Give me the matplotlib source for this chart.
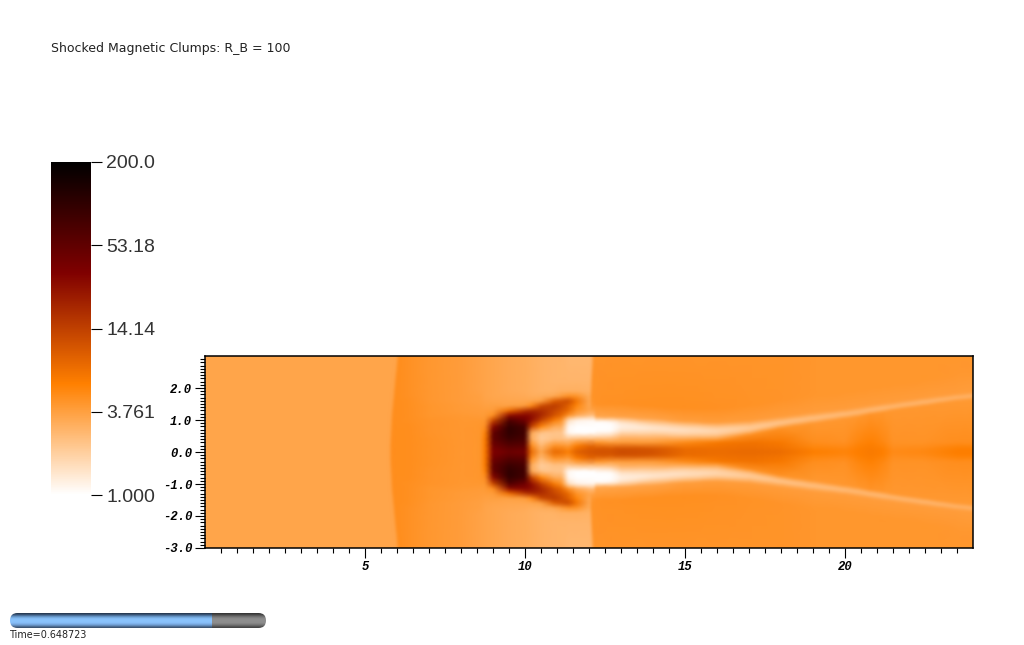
import matplotlib
matplotlib.use('Agg')
import matplotlib.pyplot as plt
import numpy as np
from matplotlib.colors import LinearSegmentedColormap, LogNorm
from matplotlib.cm import ScalarMappable
from matplotlib.patches import FancyBboxPatch

plt.rcParams['axes.unicode_minus'] = False

# Texts and ticks
title_text = 'Shocked Magnetic Clumps: R_B = 100'
time_text = 'Time=0.648723'
cbar_ticks = [1.0, 3.761, 14.14, 53.18, 200.0]
cbar_labels = ['1.000', '3.761', '14.14', '53.18', '200.0']
x_major = [5, 10, 15, 20]
y_major = [-3, -2, -1, 0, 1, 2]
y_labels = ['-3.0', '-2.0', '-1.0', '0.0', '1.0', '2.0']
slider_split = 0.79

# Density, upper half only (the picture is mirrored in y)
upstream = 3.5

# left part: from the curved shock to the front at x=12
mid_y = [0, 0.2, 0.4, 0.6, 0.8, 1.0, 1.15, 1.3, 1.45, 1.6, 1.75, 1.9, 2.2, 3.0]
shock_x = [5.80, 5.80, 5.81, 5.82, 5.83, 5.84, 5.85, 5.86, 5.88, 5.89, 5.91, 5.92, 5.95, 6.03]
front_x = [12.06, 12.06, 12.06, 12.06, 12.06, 12.06, 12.06, 12.06, 12.06, 12.06, 12.06, 12.07, 12.08, 12.12]
mid_x = [6.3, 7, 8, 8.6, 8.75, 9.0, 9.5, 10, 10.2, 10.5, 10.9, 11.15, 11.35, 11.6]
mid_values = [
    [4.8, 4.8, 4.5, 4.2, 4.3, 6.0, 34, 44, 40, 8.0, 3.4, 8.0, 7.5, 6.0, 9.0, 11],
    [4.8, 4.8, 4.5, 4.2, 4.3, 6.0, 42, 60, 55, 5.0, 2.6, 4.5, 4.4, 4.0, 6.0, 8.5],
    [4.8, 4.8, 4.5, 4.2, 4.3, 6.0, 52, 85, 72, 3.2, 2.0, 2.4, 2.4, 2.3, 2.6, 2.8],
    [4.8, 4.8, 4.4, 4.2, 4.3, 5.5, 50, 105, 80, 3.2, 2.2, 2.2, 2.2, 1.1, 1.0, 1.0],
    [4.8, 4.8, 4.4, 4.2, 4.3, 4.6, 30, 100, 75, 14, 5.5, 3.2, 3.0, 1.1, 1.0, 1.0],
    [4.8, 4.7, 4.4, 4.2, 4.2, 4.2, 12, 65, 42, 28, 14, 6.5, 4.5, 1.6, 1.2, 1.1],
    [4.8, 4.7, 4.3, 4.1, 4.0, 4.0, 4.6, 28, 32, 28, 20, 11, 8.0, 4.6, 3.3, 2.5],
    [4.8, 4.7, 4.3, 4.0, 3.9, 3.9, 3.9, 7.5, 16, 19, 18, 13, 10, 8.0, 4.5, 3.4],
    [4.8, 4.7, 4.3, 4.0, 3.8, 3.7, 3.7, 3.6, 3.9, 5.0, 12, 15, 12, 9.0, 5.5, 3.2],
    [4.8, 4.7, 4.2, 3.9, 3.7, 3.6, 3.5, 3.4, 3.4, 3.4, 3.7, 9.0, 11, 12, 7.0, 3.2],
    [4.8, 4.6, 4.2, 3.9, 3.7, 3.5, 3.4, 3.3, 3.2, 3.1, 3.1, 3.3, 4.0, 4.6, 4.5, 3.1],
    [4.8, 4.6, 4.2, 3.9, 3.6, 3.5, 3.4, 3.2, 3.1, 3.0, 2.9, 2.9, 3.0, 3.0, 3.0, 2.9],
    [4.8, 4.6, 4.2, 3.9, 3.6, 3.5, 3.4, 3.2, 3.1, 3.0, 2.9, 2.8, 2.8, 2.8, 2.8, 2.8],
    [4.8, 4.6, 4.2, 3.9, 3.6, 3.5, 3.4, 3.2, 3.1, 3.0, 2.9, 2.8, 2.8, 2.7, 2.7, 2.7],
]
front_post = [11, 8.5, 2.8, 1.0, 1.0, 1.1, 2.5, 3.6, 4.2, 4.4, 4.5, 4.5, 4.5, 4.4]

# right part: rows follow the bright band (centre and half width per column)
right_x = [12.2, 12.7, 13, 14, 15, 16, 17, 18, 19, 20, 20.4, 20.8, 21.2, 21.5, 22.5, 23.5, 24]
band_y = [0.8, 0.8, 0.8, 0.74, 0.68, 0.66, 0.76, 0.93, 1.07, 1.2, 1.26, 1.33, 1.39, 1.44, 1.58, 1.72, 1.77]
band_w = [0.3, 0.3, 0.3, 0.3, 0.28, 0.26, 0.22, 0.18, 0.17, 0.15, 0.15, 0.14, 0.14, 0.13, 0.13, 0.12, 0.12]
right_values = [
    [11, 11, 12, 11, 8.0, 7.5, 8.0, 7.5, 6.0, 5.5, 5.9, 6.3, 5.9, 5.0, 5.2, 6.0, 6.0],      # y=0
    [10, 10, 11, 10, 7.5, 7.3, 7.5, 7.0, 5.5, 5.2, 5.8, 6.2, 5.7, 4.8, 5.0, 5.8, 5.8],      # y=0.12
    [4.5, 4.0, 4.0, 4.0, 5.0, 6.5, 7.0, 6.5, 4.8, 4.6, 5.3, 5.8, 5.2, 4.5, 4.5, 4.8, 4.8],  # y=0.3
    [1.6, 1.8, 2.5, 3.0, 3.6, 4.0, 4.6, 4.5, 4.2, 4.2, 4.3, 4.4, 4.3, 4.2, 4.2, 4.1, 4.1],  # band - w
    [1.0, 1.05, 1.5, 1.9, 2.0, 2.2, 2.5, 2.8, 2.9, 3.0, 3.0, 3.0, 3.0, 3.1, 3.1, 3.2, 3.2],  # band - w/2
    [1.0, 1.0, 1.2, 1.35, 1.5, 1.7, 2.0, 2.2, 2.4, 2.5, 2.6, 2.6, 2.6, 2.7, 2.7, 2.8, 2.8],  # band
    [1.0, 1.1, 1.5, 1.9, 2.0, 2.2, 2.6, 3.0, 3.1, 3.2, 3.2, 3.2, 3.2, 3.3, 3.3, 3.4, 3.4],  # band + w/2
    [3.4, 3.5, 3.6, 3.6, 3.8, 3.9, 3.9, 3.9, 3.9, 3.9, 3.9, 3.9, 3.9, 3.9, 3.9, 3.9, 3.9],  # band + w
    [4.5, 4.6, 4.6, 4.7, 4.7, 4.6, 4.5, 4.4, 4.3, 4.3, 4.3, 4.3, 4.3, 4.3, 4.3, 4.2, 4.2],  # band + 0.7
    [4.4, 4.4, 4.4, 4.4, 4.4, 4.4, 4.4, 4.4, 4.3, 4.3, 4.3, 4.3, 4.3, 4.3, 4.3, 4.3, 4.3],  # y=3
]

W, H = 1024, 645
fig = plt.figure(figsize=(W / 100, H / 100), dpi=100, facecolor='white')


def px_axes(left, top, right, bottom, **kw):
    return fig.add_axes([left / W, 1 - bottom / H, (right - left) / W, (bottom - top) / H], **kw)


cmap = LinearSegmentedColormap.from_list(
    'hot_rev', [(0, '#ffffff'), (1 / 3, '#ff8000'), (2 / 3, '#800000'), (1, '#000000')], N=512)
norm = LogNorm(1.0, 200.0)


def soften(img, dpi):
    # small blur of the drawn field, the outer edge of the layer stays as it is
    kernel = np.array([1, 4, 8, 10, 8, 4, 1], dtype=float)
    kernel /= kernel.sum()
    alpha = img[..., 3]
    layers = [img[..., i] * alpha for i in range(3)] + [alpha]
    out = []
    for lay in layers:
        lay = np.pad(lay, 3, mode='edge')
        lay = np.apply_along_axis(np.convolve, 0, lay, kernel, mode='same')
        lay = np.apply_along_axis(np.convolve, 1, lay, kernel, mode='same')
        out.append(lay[3:-3, 3:-3])
    res = img.copy()
    for i in range(3):
        res[..., i] = np.clip(out[i] / np.maximum(out[3], 1e-3), 0, 1)
    return res, 0, 0


# Main field, in its own axes so that the blur does not touch ticks and frame
field = px_axes(205, 356, 973, 548)
field.set_axis_off()
field.set_agg_filter(soften)


def draw_mirrored(xs, ys, vals):
    field.pcolormesh(xs, ys, vals, cmap=cmap, norm=norm, shading='gouraud')
    field.pcolormesh(xs, -ys, vals, cmap=cmap, norm=norm, shading='gouraud')


n_rows = len(mid_y)
sx = np.array(shock_x)
fx = np.array(front_x)
left_x = np.column_stack([
    np.zeros(n_rows), sx - 0.03, sx + 0.03,
    np.tile(mid_x, (n_rows, 1)),
    fx - 0.03, fx + 0.03, np.full(n_rows, right_x[0]),
])
left_y = np.tile(np.array(mid_y)[:, None], (1, left_x.shape[1]))
left_v = np.column_stack([
    np.full(n_rows, upstream), np.full(n_rows, upstream),
    np.array(mid_values), front_post, front_post,
])
draw_mirrored(left_x, left_y, left_v)

c = np.array(band_y)
w = np.array(band_w)
rows = [0 * c, 0 * c + 0.12, 0 * c + 0.3, c - w, c - w / 2, c, c + w / 2, c + w, c + 0.7, 0 * c + 3.0]
right_yy = np.array(rows)
right_xx = np.tile(right_x, (len(rows), 1))
draw_mirrored(right_xx, right_yy, np.array(right_values))
field.set_xlim(0, 24)
field.set_ylim(-3, 3)

# Frame and ticks
ax = px_axes(205, 356, 973, 548, facecolor='none')
ax.set_xlim(0, 24)
ax.set_ylim(-3, 3)
ax.set_xticks(x_major)
ax.set_xticklabels([str(v) for v in x_major])
ax.set_xticks(np.arange(0.5, 24, 0.5), minor=True)
ax.set_yticks(y_major)
ax.set_yticklabels(y_labels)
ax.set_yticks(np.arange(-2.9, 3.0, 0.1), minor=True)
ax.tick_params(which='major', direction='out', length=7.2, width=0.8, pad=2.0)
ax.tick_params(which='minor', direction='out', length=3.4, width=0.8)
for lab in ax.get_xticklabels() + ax.get_yticklabels():
    lab.set_family('Liberation Mono')
    lab.set_weight('bold')
    lab.set_style('italic')
    lab.set_fontsize(8.8)
for s in ax.spines.values():
    s.set_linewidth(1.1)

# Colour bar
cax = px_axes(51, 162, 91, 495)
cb = fig.colorbar(ScalarMappable(norm=norm, cmap=cmap), cax=cax)
cb.set_ticks(cbar_ticks)
cb.set_ticklabels(cbar_labels)
cb.minorticks_off()
cb.outline.set_visible(False)
cax.tick_params(length=8, width=0.8, pad=3, labelsize=14)
for lab in cax.get_yticklabels():
    lab.set_family('Liberation Sans')
    lab.set_color('#333333')

# Overlay in pixel coordinates for title and time slider
over = fig.add_axes([0, 0, 1, 1], facecolor='none')
over.set_xlim(0, W)
over.set_ylim(H, 0)
over.axis('off')
over.text(51, 48.5, title_text, fontsize=9.0, family='DejaVu Sans', va='center', color='#222222')
over.text(10, 635, time_text, fontsize=6.9, family='DejaVu Sans', va='center', color='#222222')

blue = np.array([[40, 60, 85], [70, 105, 145], [105, 155, 205], [130, 185, 240], [138, 195, 252], [138, 195, 252],
                 [135, 190, 248], [120, 170, 225], [95, 135, 180], [60, 85, 115]]) / 255
grey = np.array([[55, 55, 55], [85, 85, 85], [115, 115, 115], [135, 135, 135], [142, 142, 142], [142, 142, 142],
                 [140, 140, 140], [125, 125, 125], [100, 100, 100], [70, 70, 70]]) / 255
split_px = 10 + slider_split * 256
clip = FancyBboxPatch((10, 613), 256, 15, boxstyle='round,pad=0,rounding_size=7.5', transform=over.transData,
                      linewidth=0, facecolor='none')
over.add_patch(clip)
im1 = over.imshow(blue[:, None, :], extent=(10, split_px, 628, 613), aspect='auto', interpolation='bilinear')
im2 = over.imshow(grey[:, None, :], extent=(split_px, 266, 628, 613), aspect='auto', interpolation='bilinear')
im1.set_clip_path(clip)
im2.set_clip_path(clip)
over.set_xlim(0, W)
over.set_ylim(H, 0)

fig.savefig('out.png', dpi=100)
